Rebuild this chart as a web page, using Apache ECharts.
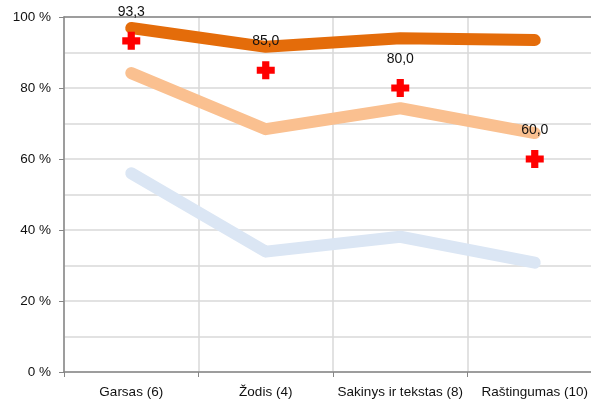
<!DOCTYPE html>
<html>
<head>
<meta charset="utf-8">
<script src="https://cdn.jsdelivr.net/npm/echarts@6/dist/echarts.min.js"></script>
<style>
    html, body { margin: 0; padding: 0; background: #fff; }
    #main { width: 591px; height: 401px; }
</style>
</head>
<body>
<div id="main"></div>
<script>
    // kategorijos ir reikšmės (procentais)
    var categories = ['Garsas (6)', 'Žodis (4)', 'Sakinys ir tekstas (8)', 'Raštingumas (10)'];
    var darkOrange = [96.9, 91.6, 94.0, 93.5];
    var lightOrange = [84.2, 68.4, 74.3, 67.3];
    var lightBlue = [56.0, 33.9, 38.1, 30.8];
    var crosses = [93.3, 85.0, 80.0, 60.0];

    var crossPath = 'path://M3,0 L7,0 L7,3 L10,3 L10,7 L7,7 L7,10 L3,10 L3,7 L0,7 L0,3 L3,3 Z';
    var font = 'Liberation Sans';

    var myChart = echarts.init(document.getElementById('main'));

    function thickLine(name, color, data) {
        return {
            name: name,
            type: 'line',
            symbol: 'none',
            lineStyle: { color: color, width: 12, cap: 'round', join: 'round' },
            data: data
        };
    }

    var option = {
        animation: false,
        grid: { left: 64, top: 17, bottom: 29, width: 538, containLabel: false, outerBoundsMode: 'none' },
        xAxis: [{
            type: 'category',
            data: categories,
            boundaryGap: true,
            axisLine: { lineStyle: { color: '#868686', width: 1.5 } },
            axisTick: { show: true, interval: 0, length: 5, lineStyle: { color: '#868686' } },
            axisLabel: { interval: 0, color: '#111', fontFamily: font, fontSize: 13.5, margin: 13 },
            splitLine: { show: true, interval: 0, lineStyle: { color: '#d9d9d9', width: 1.5 } }
        }, {
            type: 'category',
            position: 'top',
            data: categories,
            axisLine: { lineStyle: { color: '#868686', width: 1.5 } },
            axisTick: { show: false },
            axisLabel: { show: false }
        }],
        yAxis: {
            type: 'value',
            min: 0,
            max: 100,
            interval: 20,
            axisLine: { show: true, lineStyle: { color: '#868686', width: 1.5 } },
            axisTick: { show: true, length: 5, lineStyle: { color: '#868686' } },
            axisLabel: {
                color: '#111', fontFamily: font, fontSize: 13.5, margin: 13,
                formatter: function (v) { return v + ' %'; }
            },
            splitLine: { show: true, lineStyle: { color: '#d9d9d9', width: 1.5 } },
            minorTick: { show: false, splitNumber: 2 },
            minorSplitLine: { show: true, lineStyle: { color: '#d9d9d9', width: 1.5 } }
        },
        series: [
            thickLine('lb', '#dbe6f4', lightBlue),
            thickLine('lo', '#fac090', lightOrange),
            thickLine('do', '#e46c0a', darkOrange),
            {
                name: 'cross',
                type: 'line',
                lineStyle: { opacity: 0 },
                symbol: crossPath,
                symbolSize: 18,
                itemStyle: { color: '#ff0000' },
                z: 5,
                label: {
                    show: true,
                    position: 'top',
                    distance: 13,
                    color: '#111',
                    fontFamily: font,
                    fontSize: 14,
                    formatter: function (p) { return p.value.toFixed(1).replace('.', ','); }
                },
                data: crosses
            }
        ]
    };
    myChart.setOption(option);
</script>
</body>
</html>
